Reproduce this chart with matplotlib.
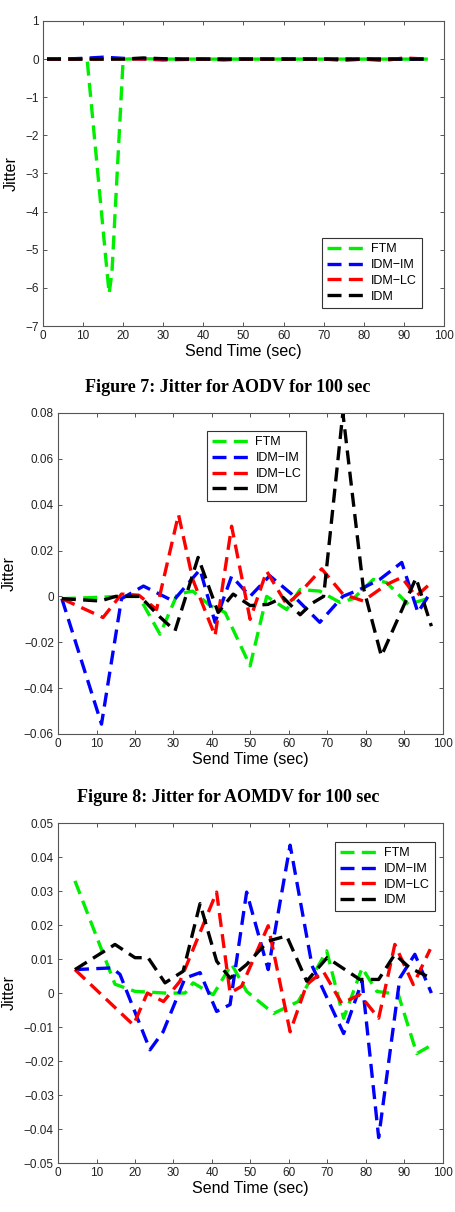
import matplotlib
matplotlib.use('Agg')
import matplotlib.pyplot as plt
import numpy as np

plt.rcParams.update({
    'font.family': ['Liberation Sans', 'DejaVu Sans'],
    'xtick.direction': 'in',
    'ytick.direction': 'in',
    'xtick.top': True,
    'ytick.right': True,
    'xtick.labelsize': 8.5,
    'ytick.labelsize': 8.5,
    'axes.edgecolor': '#555555',
    'xtick.color': '#555555',
    'ytick.color': '#555555',
    'xtick.labelcolor': '#222222',
    'ytick.labelcolor': '#222222',
    'axes.unicode_minus': True,
})

labels = ['FTM', 'IDM\u2212IM', 'IDM\u2212LC', 'IDM']
colors = ['#00ee00', '#0000ff', '#ff0000', '#000000']

# Figure 7: AODV
aodv_ftm_t = [1, 5, 11, 16, 16.5, 17.2, 20, 25, 30, 35, 40, 45, 50, 55, 60, 65, 70, 75, 80, 85, 90, 96]
aodv_ftm = [0, 0, 0, -5.6, -6.15, -5.6, 0, 0.01, 0, 0, 0, 0, 0, 0, 0, 0, 0, 0, 0, 0, 0, 0]
aodv_t = [1, 5, 10, 15, 20, 25, 30, 35, 40, 45, 50, 55, 60, 65, 70, 75, 80, 85, 90, 96]
aodv_imm = [0, 0, 0.02, 0.05, 0.02, 0.0, -0.02, -0.01, 0.0, -0.02, 0.0, 0.0, 0.0, 0.0, 0.0, -0.03, 0.0, 0.0, 0.0, 0.0]
aodv_lc = [0, 0, 0.0, 0.0, 0.01, 0.0, 0.0, 0.0, 0.0, 0.0, 0.0, 0.0, 0.0, 0.0, 0.0, 0.0, 0.0, -0.04, 0.03, 0.0]
aodv_idm = [0, 0, 0.0, 0.0, 0.0, 0.03, 0.01, 0.0, 0.0, 0.0, 0.0, 0.0, 0.0, 0.0, 0.0, 0.0, 0.0, 0.0, 0.0, 0.0]

# Figure 8: AOMDV
aomdv_ftm_t = [1, 16.5, 21, 26.5, 31, 35, 39.5, 43.4, 49.9, 54.2, 59.4, 62.9, 68, 73.2, 76.7, 81.9, 85.4, 91, 96]
aomdv_ftm = [-0.001, 0, 0.0, -0.0165, 0.001, 0.0023, -0.004, -0.007, -0.0303, 0, -0.0057, 0.003, 0.0023,
             -0.0026, -0.001, 0.0074, 0.006, -0.0035, -0.001]
aomdv_imm_t = [1, 11.3, 16.5, 22.2, 29.9, 36.9, 40.8, 45.1, 49.9, 55, 60.7, 68, 74, 78.4, 83.6, 89.3, 93.5, 97]
aomdv_imm = [-0.001, -0.0557, -0.001, 0.0045, -0.002, 0.0117, -0.0113, 0.0088, 0.0, 0.009, 0.001, -0.0113,
             0.0, 0.003, 0.0074, 0.0148, -0.007, 0.0023]
aomdv_lc_t = [1, 11.7, 16.5, 21, 25.6, 31.3, 35, 40.8, 45.1, 49.9, 54.2, 59.4, 62.9, 68.5, 74, 79.3, 85.4,
              89.3, 93, 97]
aomdv_lc = [-0.001, -0.0092, 0.001, 0.0005, -0.0057, 0.0357, 0.0074, -0.0172, 0.0306, -0.01, 0.011, -0.0035,
            0.0017, 0.012, 0.001, -0.002, 0.0052, 0.0083, 0.0, 0.006]
aomdv_idm_t = [1, 11, 15, 21.3, 26.5, 30.4, 36.4, 41.6, 45.5, 49.9, 54.5, 58.5, 62.9, 66, 69, 74, 79.3, 84,
               93, 97]
aomdv_idm = [-0.001, -0.002, 0, 0, -0.009, -0.015, 0.017, -0.007, 0.001, -0.004, -0.0035, -0.0005, -0.008,
             -0.003, 0.0, 0.08, 0.004, -0.026, 0.008, -0.013]

# third chart
c_ftm_t = [4.4, 14.8, 20, 27.8, 33, 35.1, 40.3, 45.1, 49, 56, 62.4, 69.8, 74.2, 79, 82.8, 88.4, 93.2, 96.3]
c_ftm = [0.033, 0.0026, 0.0005, 0, 0, 0.003, -0.0005, 0.0085, 0.0005, -0.006, -0.0025, 0.0124, -0.0074,
         0.0074, 0.0005, -0.0004, -0.0178, -0.0158]
c_imm_t = [4.4, 14, 16.1, 23.9, 27.3, 33, 36.9, 41.2, 44.7, 49, 54.6, 60.3, 66, 74.2, 79, 83.3, 88.8, 92.7, 97]
c_imm = [0.0069, 0.0074, 0.0055, -0.0167, -0.0114, 0.0044, 0.006, -0.0054, -0.0034, 0.0297, 0.0069, 0.0435,
         0.008, -0.0119, 0.0035, -0.0425, 0.0044, 0.0114, 0.0]
c_lc_t = [4.4, 19.6, 23.2, 27.4, 31.7, 41.2, 44.7, 47.7, 54.6, 60.3, 64.6, 68.9, 73.7, 78.4, 83.3, 87.5, 92.3, 96.7]
c_lc = [0.0069, -0.0094, 0.0, -0.0025, 0.0035, 0.0297, 0.0, 0.002, 0.0198, -0.0114, 0.0025, 0.0064, -0.003,
        -0.0005, -0.0074, 0.0143, 0.0025, 0.0129]
c_idm_t = [4.4, 14.8, 20, 23.4, 27.8, 32.5, 36.9, 41.2, 44.7, 49, 54.6, 59.4, 64.6, 69.9, 78.4, 83.3, 87.5, 91.4, 95.8]
c_idm = [0.0069, 0.0143, 0.0104, 0.0104, 0.003, 0.0064, 0.0263, 0.0094, 0.0044, 0.0084, 0.0153, 0.0168, 0.0035,
         0.0104, 0.004, 0.004, 0.0114, 0.0074, 0.005]

fig = plt.figure(figsize=(4.55, 12.12), dpi=100)


def tick_fmt(v):
    s = ('%.2f' % v).rstrip('0').rstrip('.') if abs(v) > 1e-12 else '0'
    return s.replace('-', '\u2212')


def draw(ax, series, ylim, yticks, leg_loc, leg_anchor):
    for (t, v), c, lab in zip(series, colors, labels):
        ax.plot(t, v, color=c, lw=2.4, dashes=(4.2, 2.2), label=lab)
    ax.set_xlim(0, 100)
    ax.set_ylim(*ylim)
    ax.set_xticks(np.arange(0, 101, 10))
    ax.set_yticks(yticks)
    ax.set_yticklabels([tick_fmt(v) for v in yticks])
    ax.tick_params(length=3, width=0.7, pad=3)
    for s in ax.spines.values():
        s.set_linewidth(0.8)
    ax.set_xlabel('Send Time (sec)', fontsize=11.5, labelpad=1)
    ax.set_ylabel('Jitter', fontsize=11.5, labelpad=5)
    leg = ax.legend(loc=leg_loc, bbox_to_anchor=leg_anchor, fontsize=9, handlelength=3.2,
                    fancybox=False, framealpha=1, edgecolor='#333333', borderpad=0.4,
                    labelspacing=0.3, handletextpad=0.3)
    leg.get_frame().set_linewidth(0.8)


ax1 = fig.add_axes([0.0945, 0.731, 0.881, 0.2517])
draw(ax1, [(aodv_ftm_t, aodv_ftm), (aodv_t, aodv_imm), (aodv_t, aodv_lc), (aodv_t, aodv_idm)],
     (-7, 1), np.arange(-7, 2, 1), 'lower right', (0.96, 0.04))
ax1.set_yticklabels([str(v).replace('-', '\u2212') for v in range(-7, 2)])

ax2 = fig.add_axes([0.1275, 0.3944, 0.846, 0.2649])
draw(ax2, [(aomdv_ftm_t, aomdv_ftm), (aomdv_imm_t, aomdv_imm), (aomdv_lc_t, aomdv_lc), (aomdv_idm_t, aomdv_idm)],
     (-0.06, 0.08), np.round(np.arange(-0.06, 0.081, 0.02), 2), 'upper left', (0.37, 0.962))

ax3 = fig.add_axes([0.1275, 0.0404, 0.846, 0.2805])
draw(ax3, [(c_ftm_t, c_ftm), (c_imm_t, c_imm), (c_lc_t, c_lc), (c_idm_t, c_idm)],
     (-0.05, 0.05), np.round(np.arange(-0.05, 0.051, 0.01), 2), 'upper right', (0.995, 0.962))

cap = dict(ha='center', va='center', fontsize=13, fontweight='bold', family='Liberation Serif')
fig.text(228 / 455, 1 - 387 / 1212, 'Figure 7: Jitter for AODV for 100 sec', **cap)
fig.text(228 / 455, 1 - 797 / 1212, 'Figure 8: Jitter for AOMDV for 100 sec', **cap)

fig.savefig('out.png', dpi=100)
